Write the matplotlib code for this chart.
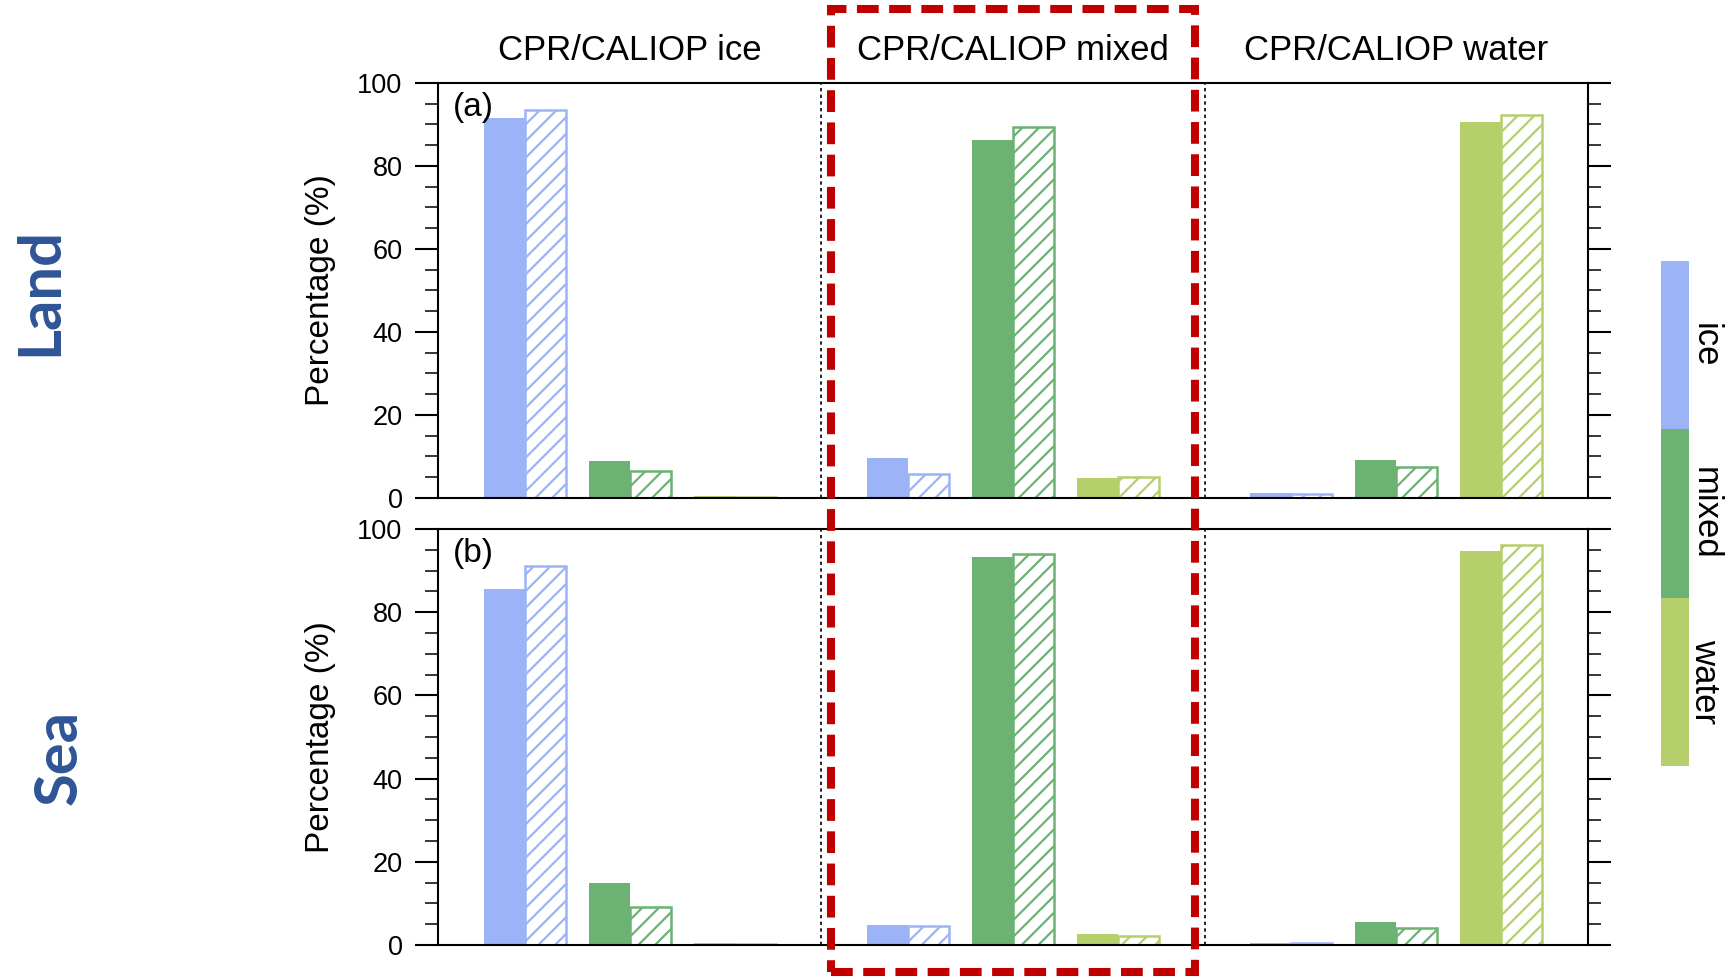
######################################################
# CPR/CALIOP phase agreement - Land / Sea
######################################################
import matplotlib
matplotlib.use("Agg")
import matplotlib.pyplot as plt
from matplotlib.patches import Rectangle
from matplotlib.ticker import MultipleLocator

plt.rcParams['font.family'] = ['Liberation Sans', 'DejaVu Sans']
plt.rcParams['hatch.linewidth'] = 1.6

######## Data ########
classes = ["ice", "mixed", "water"]
sections = ["CPR/CALIOP ice", "CPR/CALIOP mixed", "CPR/CALIOP water"]
colors = ["#9db3f8", "#6bb273", "#b5cf6b"]

# rows = section (CPR/CALIOP ice, mixed, water), cols = class (ice, mixed, water)
land_solid = [[91.5, 8.8, 0.5], [9.6, 86.3, 4.9], [1.1, 9.2, 90.5]]
land_hatch = [[93.5, 6.6, 0.3], [5.9, 89.5, 5.1], [0.9, 7.4, 92.3]]
sea_solid = [[85.5, 15.0, 0.4], [4.8, 93.3, 2.6], [0.6, 5.5, 94.7]]
sea_hatch = [[91.2, 9.1, 0.3], [4.6, 93.9, 2.2], [0.5, 4.2, 96.2]]

panels = [("(a)", land_solid, land_hatch), ("(b)", sea_solid, sea_hatch)]

######## Layout ########
W, H = 1729, 980
sec_w = 3.833      # width of each section (x units)
first = 0.865      # first group center inside a section
step = 1.05        # distance between groups
width = 0.41
xmax = 3 * sec_w

fig = plt.figure(figsize=(W / 100, H / 100), dpi=100)

ax_a = fig.add_axes([438 / W, 1 - 498 / H, 1150 / W, 415 / H])
ax_b = fig.add_axes([438 / W, 1 - 945 / H, 1150 / W, 416 / H])

for ax, (tag, solid, hatched) in zip([ax_a, ax_b], panels):
    for s in range(3):
        for k in range(3):
            c = s * sec_w + first + k * step
            ax.bar(c - width / 2, solid[s][k], width, color=colors[k], linewidth=0, zorder=2)
            ax.bar(c + width / 2, hatched[s][k], width, facecolor="white",
                   edgecolor=colors[k], hatch="//", linewidth=1.8, zorder=2)
    for s in [1, 2]:
        ax.axvline(s * sec_w, color="black", linestyle=(0, (2, 2)), linewidth=1.2, zorder=1)

    ax.set_xlim(0, xmax)
    ax.set_ylim(0, 100)
    ax.yaxis.set_major_locator(MultipleLocator(20))
    ax.yaxis.set_minor_locator(MultipleLocator(5))
    ax.set_xticks([])
    ax.tick_params(axis="y", which="both", direction="out", left=True, right=True,
                   labelright=False, labelsize=19.5, pad=9)
    ax.tick_params(axis="y", which="major", length=16.5, width=1.5)
    ax.tick_params(axis="y", which="minor", length=9.5, width=1.1)
    for sp in ax.spines.values():
        sp.set_linewidth(1.5)
    ax.set_ylabel("Percentage (%)", fontsize=24, labelpad=15)
    ax.text(0.013, 0.94, tag, transform=ax.transAxes, fontsize=24, va="center", ha="left")

######## Titles ########
for s, t in enumerate(sections):
    tx = (438 + (s + 0.5) * 1150 / 3) / W
    fig.text(tx, 1 - 50 / H, t, fontsize=25, ha="center", va="center")

fig.text(40 / W, 1 - 292 / H, "Land", rotation=90, fontsize=43, fontweight="bold",
         color="#2f5597", ha="center", va="center", family="Lato")
fig.text(60 / W, 1 - 757 / H, "Sea", rotation=90, fontsize=43, fontweight="bold",
         color="#2f5597", ha="center", va="center", family="Lato")

######## Legend bar ########
ax_leg = fig.add_axes([1661 / W, 1 - 766 / H, 28 / W, 505 / H])
for k, cl in enumerate(classes):
    ax_leg.bar(0, 1, 1, bottom=k, color=colors[k], linewidth=0)
ax_leg.set_xlim(-0.5, 0.5)
ax_leg.set_ylim(3, 0)
ax_leg.axis("off")
for k, cl in enumerate(classes):
    fig.text(1705 / W, 1 - (261 + (k + 0.5) * 505 / 3) / H, cl, fontsize=25,
             rotation=-90, ha="center", va="center")

######## Red dashed box ########
fig.add_artist(Rectangle((831 / W, 1 - 972 / H), (1195 - 831) / W, (972 - 9) / H,
                         transform=fig.transFigure, fill=False, edgecolor="#c00000",
                         linewidth=5.8, linestyle=(0, (2.7, 1.3)), zorder=10))

fig.savefig("out.png", dpi=100, facecolor="white")
